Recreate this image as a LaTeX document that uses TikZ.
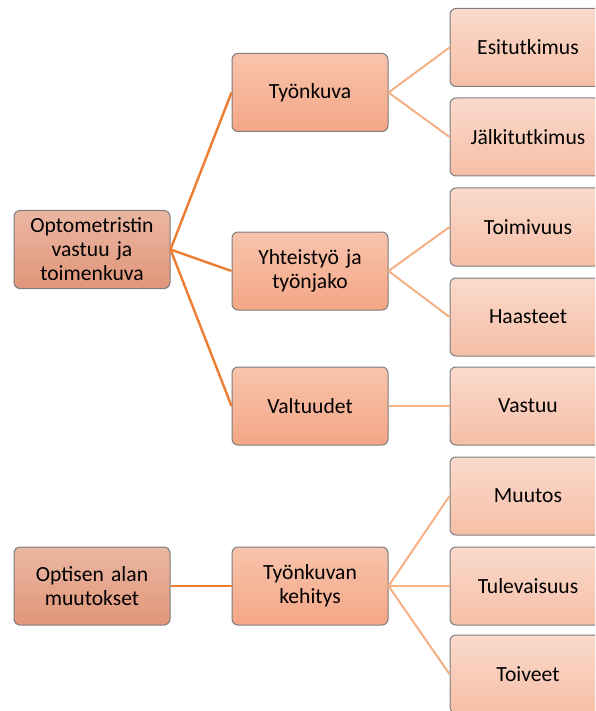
\documentclass[tikz,border=0pt]{standalone}
\usepackage{fontspec}
\setmainfont{Carlito}
\usepackage{tikz}
\usetikzlibrary{positioning,calc}
\definecolor{rootTop}{RGB}{234,182,162}
\definecolor{rootBot}{RGB}{225,150,122}
\definecolor{midTop}{RGB}{247,196,172}
\definecolor{midBot}{RGB}{245,166,134}
\definecolor{leafTop}{RGB}{250,218,204}
\definecolor{leafBot}{RGB}{246,190,166}
\definecolor{lineDark}{RGB}{237,125,49}
\definecolor{lineLight}{RGB}{244,177,131}
\definecolor{boxEdge}{RGB}{125,125,125}

\tikzset{
  box/.style={draw=boxEdge, line width=0.5pt, rounded corners=3pt, align=center,
    minimum width=78pt, minimum height=39pt, text width=71pt,
    font=\fontsize{10.8}{12}\selectfont},
  rootbox/.style={box, top color=rootTop, bottom color=rootBot},
  midbox/.style={box, top color=midTop, bottom color=midBot},
  leafbox/.style={box, top color=leafTop, bottom color=leafBot},
  linkA/.style={lineDark, line width=1.2pt},
  linkB/.style={lineLight, line width=1pt}
}

\begin{document}
\begin{tikzpicture}[x=0.5pt, y=-0.5pt]
    % page frame (reference is cut at right and bottom)
    \useasboundingbox (0,0) rectangle (595,711);
    \clip (0,0) rectangle (595,711);
    % first level
    \node[rootbox] (opto) at (92,249.5) {Optometristin\\vastuu ja\\toimenkuva};
    \node[rootbox] (optis) at (92,586) {Optisen alan\\muutokset};
    % second level
    \node[midbox] (tyon) at (310,92.5) {Työnkuva};
    \node[midbox] (yht) at (310,271) {Yhteistyö ja\\työnjako};
    \node[midbox] (valt) at (310,406) {Valtuudet};
    \node[midbox] (keh) at (310,586) {Työnkuvan\\kehitys};
    % third level
    \node[leafbox] (esi) at (528,47.5) {Esitutkimus};
    \node[leafbox] (jalki) at (528,137) {Jälkitutkimus};
    \node[leafbox] (toim) at (528,227) {Toimivuus};
    \node[leafbox] (haas) at (528,317) {Haasteet};
    \node[leafbox] (vast) at (528,406) {Vastuu};
    \node[leafbox] (muut) at (528,496) {Muutos};
    \node[leafbox] (tule) at (528,586) {Tulevaisuus};
    \node[leafbox] (toiv) at (528,674) {Toiveet};
    % connectors
    \foreach \b in {tyon,yht,valt}
      \draw[linkA] (opto.east) -- (\b.west);
    \draw[linkA] (optis.east) -- (keh.west);
    \draw[linkB] (tyon.east) -- (esi.west);
    \draw[linkB] (tyon.east) -- (jalki.west);
    \draw[linkB] (yht.east) -- (toim.west);
    \draw[linkB] (yht.east) -- (haas.west);
    \draw[linkB] (valt.east) -- (vast.west);
    \foreach \b in {muut,tule,toiv}
      \draw[linkB] (keh.east) -- (\b.west);
\end{tikzpicture}
\end{document}
